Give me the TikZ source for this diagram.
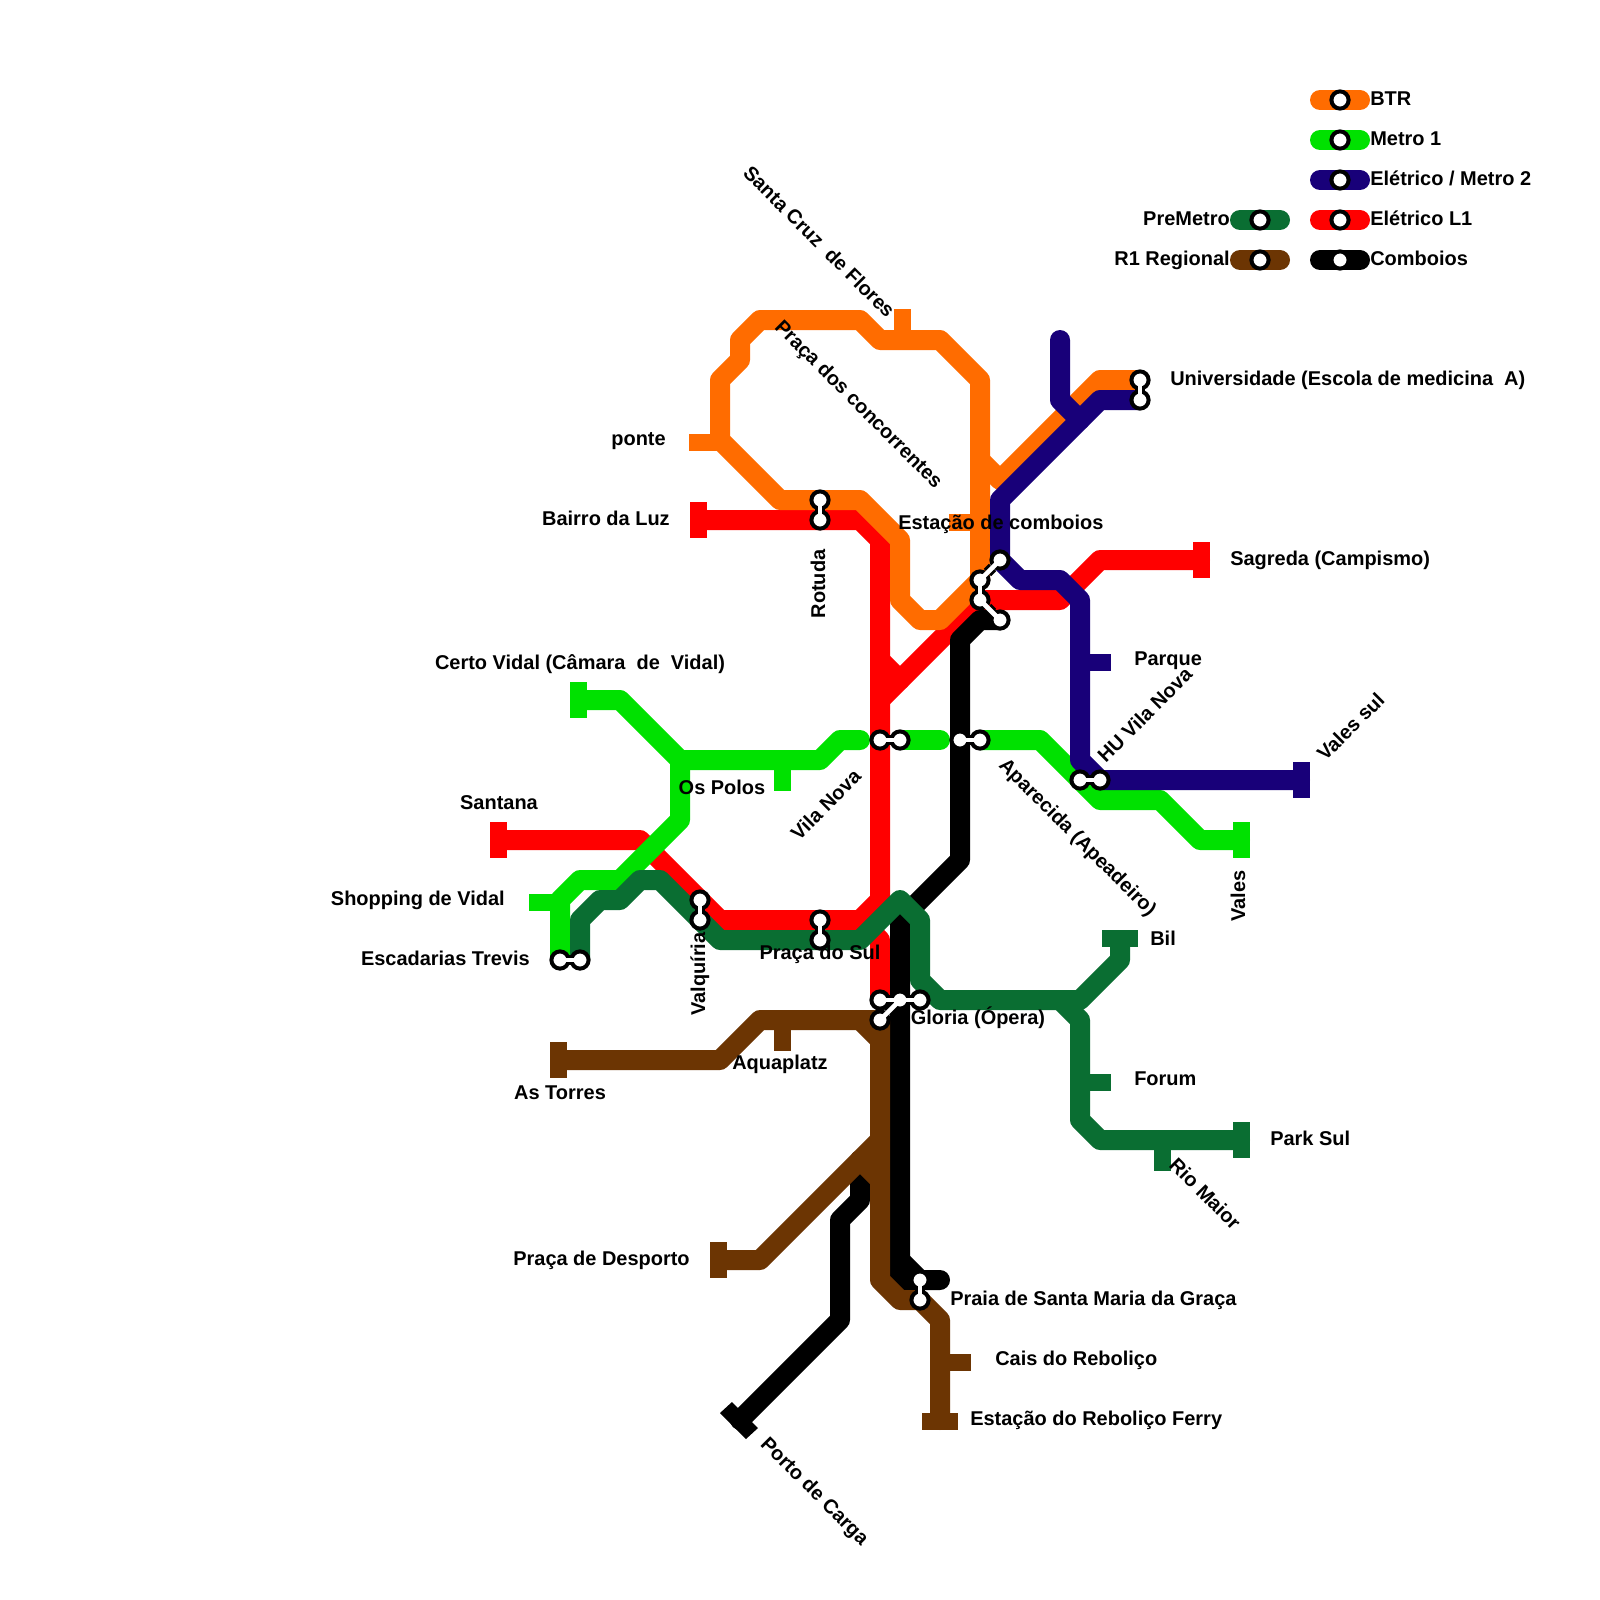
\documentclass[tikz,border=0pt]{standalone}
\usepackage{fontspec}
\setmainfont{Liberation Sans}
\definecolor{btr}{HTML}{FF6C00}
\definecolor{metro}{HTML}{00E100}
\definecolor{tram}{HTML}{180079}
\definecolor{premetro}{HTML}{0A6E32}
\definecolor{regional}{HTML}{6C3503}
\tikzset{
 route/.style={line width=.5cm,line cap=round,line join=round},
 stn/.style={circle,draw=black,fill=white,line width=.1cm,minimum size=.43cm,inner sep=0pt},
 linkback/.style={draw=black,line width=.26cm},
 linkfore/.style={draw=white,line width=.115cm},
 lab/.style={inner sep=0pt,text=black,text height=10.2pt,text depth=2.8pt}
}
\begin{document}
\begin{tikzpicture}[x=.5cm,y=-.5cm,font=\bfseries\fontsize{14.2}{17}\selectfont]
\useasboundingbox (0,0) rectangle (80,80);
\fill[white] (0,0) rectangle (80,80);
% red
\draw[route,red] (25,42)--(32,42)--(36,46)--(43,46)--(44,45)--(44,27)--(43,26)--(35,26);
\draw[route,red] (43,46)--(44,47)--(44,50);
\draw[route,red] (44,33)--(45,34)--(49,30)--(53,30)--(55,28)--(60,28);
\draw[route,red] (44,35)--(45,34);
\fill[red] (34.5,25.1) rectangle (35.35,26.9);
\fill[red] (24.5,41.1) rectangle (25.35,42.9);
\fill[red] (59.65,27.1) rectangle (60.5,28.9);
% black
\draw[route,black] (50,31)--(49,31)--(48,32)--(48,43)--(45,46)--(45,64)--(47,64);
\draw[route,black] (45,63)--(46,64);
\draw[route,black] (43,58)--(43,60)--(42,61)--(42,66)--(37,71);
\fill[black] (36,70.65)--(36.6,70.1)--(37.9,71.4)--(37.3,71.95)--cycle;
% orange
\draw[route,btr] (41,25)--(39,25)--(36,22)--(36,19)--(37,18)--(37,17)--(38,16)--(43,16)--(44,17)--(47,17)--(49,19)--(49,29);
\draw[route,btr] (41,25)--(43,25)--(45,27)--(45,30)--(46,31)--(47,31)--(49,29);
\draw[route,btr] (49,23)--(50,24)--(55,19)--(57,19);
\fill[btr] (34.45,21.7) rectangle (36,22.55);
\fill[btr] (47.45,25.7) rectangle (49,26.55);
\fill[btr] (44.7,15.45) rectangle (45.55,17);
% brown
\draw[route,regional] (28,53)--(36,53)--(38,51)--(44,51)--(44,64)--(45,65)--(46,65)--(47,66)--(47,71);
\draw[route,regional] (43,51)--(44,52);
\draw[route,regional] (44,57)--(38,63)--(36,63);
\draw[route,regional] (44,59)--(43,58);
\fill[regional] (27.5,52.1) rectangle (28.35,53.9);
\fill[regional] (35.5,62.1) rectangle (36.35,63.9);
\fill[regional] (46.1,70.65) rectangle (47.9,71.5);
\fill[regional] (38.7,51) rectangle (39.55,52.55);
\fill[regional] (47,67.7) rectangle (48.55,68.55);
% metro 1
\draw[route,metro] (29,35)--(31,35)--(34,38)--(41,38)--(42,37)--(43,37);
\draw[route,metro] (45,37)--(47,37);
\draw[route,metro] (49,37)--(52,37)--(55,40)--(58,40)--(60,42)--(62,42);
\draw[route,metro] (34,38)--(34,41)--(31,44)--(29,44)--(28,45)--(28,48);
\fill[metro] (28.5,34.1) rectangle (29.35,35.9);
\fill[metro] (61.65,41.1) rectangle (62.5,42.9);
\fill[metro] (38.7,38) rectangle (39.55,39.55);
\fill[metro] (26.45,44.7) rectangle (28,45.55);
% premetro
\draw[route,premetro] (29,48)--(29,46)--(30,45)--(31,45)--(32,44)--(33,44)--(36,47)--(43,47)--(45,45)--(46,46)--(46,49)--(47,50)--(54,50)--(56,48)--(56,47);
\draw[route,premetro] (53,50)--(54,51)--(54,56)--(55,57)--(62,57);
\fill[premetro] (55.1,46.5) rectangle (56.9,47.35);
\fill[premetro] (61.65,56.1) rectangle (62.5,57.9);
\fill[premetro] (54,53.7) rectangle (55.55,54.55);
\fill[premetro] (57.7,57) rectangle (58.55,58.55);
% tram
\draw[route,tram] (53,17)--(53,20)--(54,21);
\draw[route,tram] (57,20)--(55,20)--(50,25)--(50,28)--(51,29)--(53,29)--(54,30)--(54,38)--(55,39)--(65,39);
\fill[tram] (64.65,38.1) rectangle (65.5,39.9);
\fill[tram] (54,32.7) rectangle (55.55,33.55);
% key
\foreach \c/\y in {btr/5,metro/7,tram/9,red/11,black/13}{
 \draw[route,\c] (66,\y)--(68,\y);
}
\foreach \c/\y in {premetro/11,regional/13}{
 \draw[route,\c] (62,\y)--(64,\y);
}
% stations
\foreach \nm/\p in {rotA/{41,25},rotB/{41,26},valA/{35,45},valB/{35,46},sulA/{41,46},sulB/{41,47},
 trevA/{28,48},trevB/{29,48},vilaA/{44,37},vilaB/{45,37},apaA/{48,37},apaB/{49,37},
 huA/{54,39},huB/{55,39},uniA/{57,19},uniB/{57,20},
 estA/{50,28},estB/{49,29},estC/{49,30},estD/{50,31},
 gloA/{44,50},gloB/{44,51},gloC/{45,50},gloD/{46,50},praiaA/{46,64},praiaB/{46,65},
 keyA/{67,5},keyB/{67,7},keyC/{67,9},keyD/{67,11},keyE/{67,13},keyF/{63,11},keyG/{63,13}}{
 \node[stn] (\nm) at (\p) {};
}
\foreach \a/\b in {rotA/rotB,valA/valB,sulA/sulB,trevA/trevB,vilaA/vilaB,apaA/apaB,huA/huB,uniA/uniB,
 estA/estB,estB/estC,estC/estD,gloA/gloC,gloB/gloC,gloC/gloD,praiaA/praiaB}{
 \draw[linkback] (\a)--(\b);
}
\foreach \a/\b in {rotA/rotB,valA/valB,sulA/sulB,trevA/trevB,vilaA/vilaB,apaA/apaB,huA/huB,uniA/uniB,
 estA/estB,estB/estC,estC/estD,gloA/gloC,gloB/gloC,gloC/gloD,praiaA/praiaB}{
 \draw[linkfore] (\a.center)--(\b.center);
}
% labels
\node[lab,anchor=west] (keyBtr) at (68.5,5) {BTR};
\node[lab,anchor=west] (keyMetro) at (68.5,7) {Metro 1};
\node[lab,anchor=west] (keyTram) at (68.5,9) {Elétrico / Metro 2};
\node[lab,anchor=west] (keyLone) at (68.5,11) {Elétrico L1};
\node[lab,anchor=west] (keyTrain) at (68.5,13) {Comboios};
\node[lab,anchor=east] (keyPre) at (61.5,11) {PreMetro};
\node[lab,anchor=east] (keyReg) at (61.5,13) {R1 Regional};
\node[lab,anchor=west] (uni) at (58.5,19) {Universidade (Escola de medicina~~A)};
\node[lab,anchor=east] (ponte) at (33.3,22) {ponte};
\node[lab,anchor=east] (luz) at (33.5,26) {Bairro da Luz};
\node[lab,anchor=west] (sagreda) at (61.5,28) {Sagreda (Campismo)};
\node[lab,anchor=west] (est) at (44.9,26.2) {Estação de comboios};
\node[lab,anchor=west] (parque) at (56.7,33) {Parque};
\node[lab,anchor=west] (forum) at (56.7,54) {Forum};
\node[lab,anchor=west] (bil) at (57.5,47) {Bil};
\node[lab,anchor=west] (park) at (63.5,57) {Park Sul};
\node[lab] (santana) at (24.95,40.2) {Santana};
\node[lab] (certo) at (29,33.2) {Certo Vidal (Câmara~~de~~Vidal)};
\node[lab,anchor=east] (shop) at (25.25,45) {Shopping de Vidal};
\node[lab,anchor=east] (trev) at (26.5,48) {Escadarias Trevis};
\node[lab] (polos) at (36.1,39.45) {Os Polos};
\node[lab] (sul) at (41,47.7) {Praça do Sul};
\node[lab] (glo) at (48.9,50.95) {Gloria (Ópera)};
\node[lab] (aqua) at (39,53.2) {Aquaplatz};
\node[lab] (torres) at (28,54.7) {As Torres};
\node[lab,anchor=east] (desp) at (34.5,63) {Praça de Desporto};
\node[lab,anchor=west] (praia) at (47.5,65) {Praia de Santa Maria da Graça};
\node[lab,anchor=west] (cais) at (49.75,68) {Cais do Reboliço};
\node[lab,anchor=west] (ferry) at (48.5,71) {Estação do Reboliço Ferry};
\node[lab,rotate=90] (rot) at (41,29.2) {Rotuda};
\node[lab,rotate=90] (val) at (35,48.7) {Valquíria};
\node[lab,rotate=90] (vales) at (62,44.8) {Vales};
\node[lab,rotate=45] (vila) at (41.35,40.3) {Vila Nova};
\node[lab,rotate=45] (hu) at (57.3,35.8) {HU Vila Nova};
\node[lab,rotate=45] (valesul) at (67.6,36.4) {Vales sul};
\node[lab,rotate=-45] (cruz) at (40.9,12.15) {Santa Cruz~~de Flores};
\node[lab,rotate=-45] (conc) at (42.9,20.25) {Praça dos concorrentes};
\node[lab,rotate=-45] (apa) at (53.85,41.9) {Aparecida (Apeadeiro)};
\node[lab,rotate=-45] (rio) at (60.2,59.75) {Rio Maior};
\node[lab,rotate=-45] (porto) at (40.7,74.6) {Porto de Carga};
\end{tikzpicture}
\end{document}
